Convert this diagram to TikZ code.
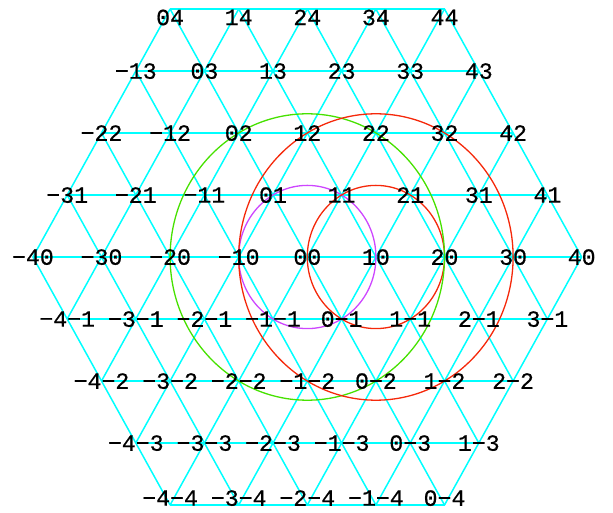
\documentclass[tikz,border=0pt]{standalone}
\usepackage{fontspec}
\usepackage{xcolor}
\usepackage{tikz}
\newfontfamily\latfont[FakeBold=0.6]{Liberation Mono}
\definecolor{gridcyan}{RGB}{0,255,255}
\definecolor{ringred}{RGB}{245,40,10}
\definecolor{ringgreen}{RGB}{70,225,0}
\definecolor{ringpurple}{RGB}{205,70,255}
\newcommand\latnum[1]{\ifnum#1<0 −\number-#1\else#1\fi}

\begin{document}
\begin{tikzpicture}[x=0.5pt, y=0.5pt,
  grid/.style={draw=gridcyan, line width=0.75pt},
  row/.style={draw=gridcyan, line width=1pt},
  ring/.style={line width=0.65pt},
  lbl/.style={font=\latfont\fontsize{11.6}{13}\selectfont,
              inner sep=0pt, text depth=0pt}
]
\useasboundingbox (0,0) rectangle (613,512);

% Lattice points
\foreach \j in {-4,...,4}{
  \pgfmathtruncatemacro\ilo{max(-4,\j-4)}
  \pgfmathtruncatemacro\ihi{min(4,\j+4)}
  \foreach \i in {\ilo,...,\ihi}
    \coordinate (v\i\j) at ({307.3+68.6*(\i-0.5*\j)}, {255+62*\j});
}

% Rows
\foreach \j in {-4,...,4}{
  \pgfmathtruncatemacro\ilo{max(-4,\j-4)}
  \pgfmathtruncatemacro\ihi{min(4,\j+4)}
  \draw[row] (v\ilo\j) -- (v\ihi\j);
}

% Lines with i fixed
\foreach \i in {-4,...,4}{
  \pgfmathtruncatemacro\jlo{max(-4,\i-4)}
  \pgfmathtruncatemacro\jhi{min(4,\i+4)}
  \draw[grid] (v\i\jlo) -- (v\i\jhi);
}

% Lines with i-j fixed
\foreach \k in {-4,...,4}{
  \pgfmathtruncatemacro\ilo{max(-4,\k-4)}
  \pgfmathtruncatemacro\ihi{min(4,\k+4)}
  \pgfmathtruncatemacro\jlo{\ilo-\k}
  \pgfmathtruncatemacro\jhi{\ihi-\k}
  \draw[grid] (v\ilo\jlo) -- (v\ihi\jhi);
}

% Circles
\draw[ring, ringpurple] (v00) ellipse [x radius=68.6, y radius=71.6];
\draw[ring, ringred]    (v10) ellipse [x radius=68.6, y radius=71.6];
\draw[ring, ringgreen]  (v00) ellipse [x radius=137.2, y radius=143.2];
\draw[ring, ringred]    (v10) ellipse [x radius=137.2, y radius=143.2];

% Labels
\foreach \j in {-4,...,4}{
  \pgfmathtruncatemacro\ilo{max(-4,\j-4)}
  \pgfmathtruncatemacro\ihi{min(4,\j+4)}
  \pgfmathsetmacro\dy{(\j==4)*(-4.2)+(\j==-4)*3.5}
  \foreach \i in {\ilo,...,\ihi}
    \node[lbl, yshift=\dy pt] (t\i\j) at (v\i\j) {\latnum{\i}\latnum{\j}};
}

\end{tikzpicture}
\end{document}
